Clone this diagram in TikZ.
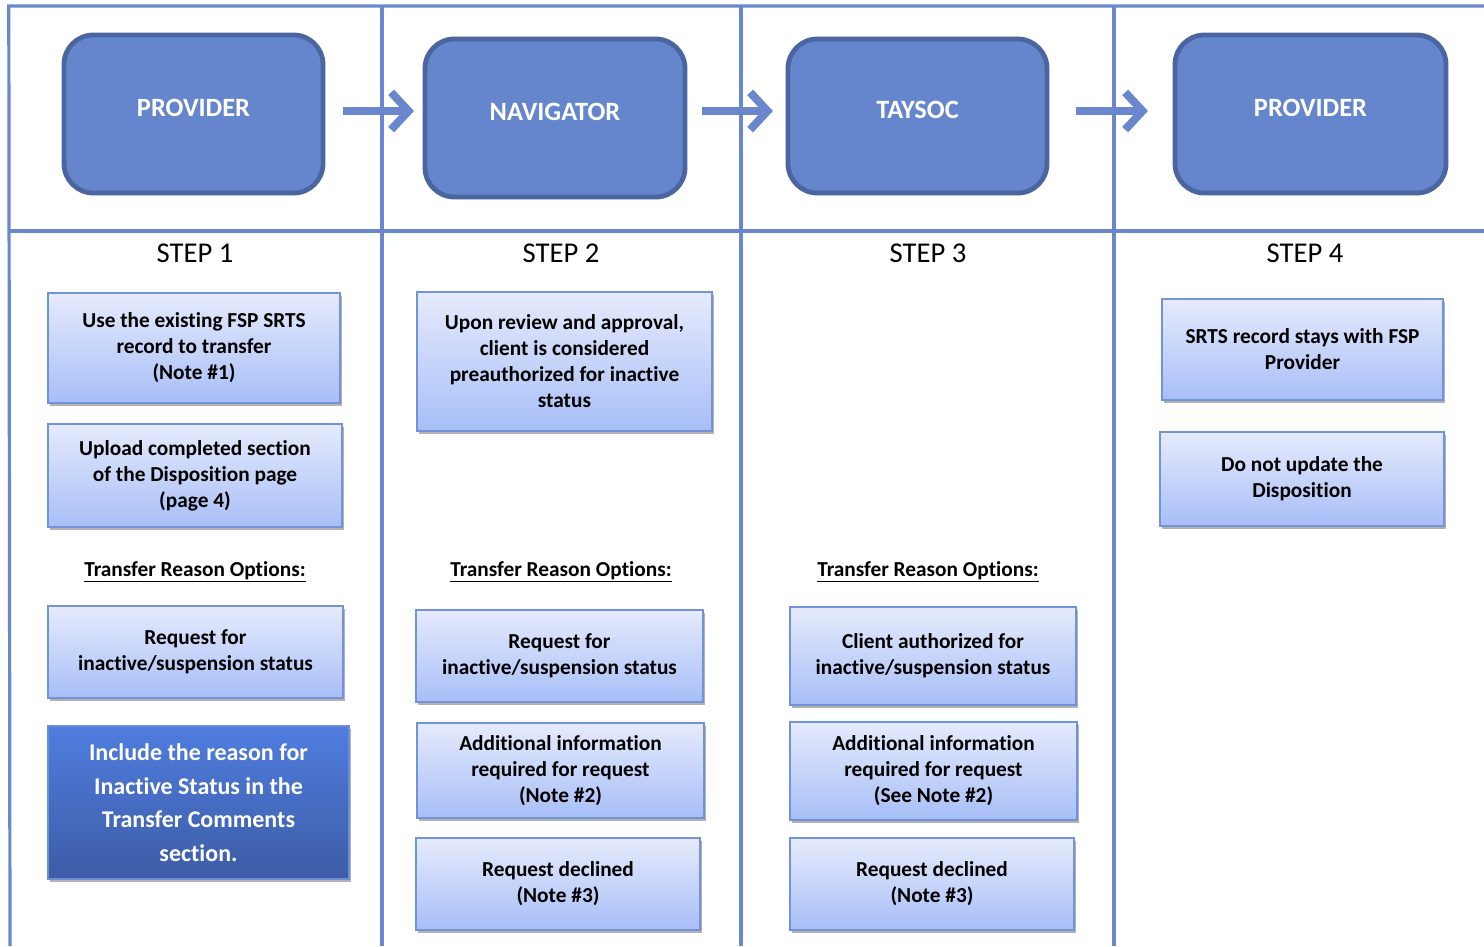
\documentclass[tikz,border=0pt]{standalone}
\usepackage{fontspec}
\setmainfont[Ligatures={NoCommon}]{Carlito}
\usetikzlibrary{shadows,arrows.meta,calc}
\definecolor{gridc}{HTML}{6A87CD}
\definecolor{bigfill}{HTML}{6586CD}
\definecolor{bigborder}{HTML}{4A65A0}
\definecolor{sboxtop}{HTML}{E6EBFC}
\definecolor{sboxbot}{HTML}{A7BEF7}
\definecolor{sboxborder}{HTML}{7393D8}
\definecolor{dboxtop}{HTML}{4F7DDF}
\definecolor{dboxbot}{HTML}{3D5CA5}
\definecolor{dboxborder}{HTML}{6A8ED8}
% box by corners: style, x1, y1, x2, y2, name, text
\newcommand\cbox[7]{\node[#1, minimum width={(#4-#2)*0.75pt}, minimum height={(#5-#3)*0.75pt}] (#6) at ({(#2+#4)/2},{(#3+#5)/2}) {#7};}
\begin{document}
\begin{tikzpicture}[x=0.75pt,y=-0.75pt,
  gridline/.style={draw=gridc, line width=2.4pt},
  bigbox/.style={draw=bigborder, fill=bigfill, line width=3.6pt, rounded corners=22pt,
    inner sep=0pt, text=white, font=\fontsize{19.8}{23}\selectfont\bfseries,
    drop shadow={shadow xshift=1pt, shadow yshift=-1.5pt, opacity=0.25, fill=black}},
  sbox/.style={draw=sboxborder, line width=1.2pt, top color=sboxtop, bottom color=sboxbot,
    inner sep=0pt, align=center, font=\fontsize{16}{19.5}\selectfont\bfseries,
    drop shadow={shadow xshift=1.5pt, shadow yshift=-2.5pt, opacity=0.3, fill=black}},
  dbox/.style={draw=dboxborder, line width=1.2pt, top color=dboxtop, bottom color=dboxbot,
    inner sep=0pt, align=center, text=white, font=\fontsize{18}{25.2}\selectfont\bfseries,
    drop shadow={shadow xshift=1.5pt, shadow yshift=-2.5pt, opacity=0.3, fill=black}},
  steplbl/.style={font=\fontsize{21.5}{24}\selectfont, inner sep=0pt},
  optlbl/.style={font=\fontsize{16}{19.5}\selectfont\bfseries, inner sep=0pt},
  flow/.style={draw=gridc, line width=6pt, -{Straight Barb[length=13pt,width=28pt]}}
]
\useasboundingbox (0,0) rectangle (1484,946);
\fill[white] (0,0) rectangle (1484,946);

% grid
\draw[gridline] (1484,6) -- (8.8,6) -- (10,946);
\draw[gridline] (10,231) -- (1484,231);
\draw[gridline] (382,6) -- (382,946);
\draw[gridline] (741,6) -- (741,946);
\draw[gridline] (1114,6) -- (1114,946);

% header boxes
\cbox{bigbox}{64}{35}{323}{193}{prov1}{\raisebox{9pt}{PROVIDER}}
\cbox{bigbox}{425}{39}{685}{197}{nav}{\raisebox{9pt}{NAVIGATOR}}
\cbox{bigbox}{788}{39}{1047}{193}{tay}{\raisebox{9pt}{TAYSOC}}
\cbox{bigbox}{1175}{35}{1446}{193}{prov2}{\raisebox{9pt}{PROVIDER}}

\coordinate (ay) at (0,111);
\draw[flow, shorten <=13.5pt, shorten >=6.5pt] (prov1.east |- ay) -- (nav.west |- ay);
\draw[flow, shorten <=11pt, shorten >=9.5pt] (nav.east |- ay) -- (tay.west |- ay);
\draw[flow, shorten <=20pt, shorten >=18.5pt] (tay.east |- ay) -- (prov2.west |- ay);

% step labels
\node[steplbl] (s1) at (195,253) {STEP 1};
\node[steplbl] (s2) at (561,253) {STEP 2};
\node[steplbl] (s3) at (928,253) {STEP 3};
\node[steplbl] (s4) at (1305,253) {STEP 4};

% column 1
\cbox{sbox}{48}{293}{340}{403}{a}{Use the existing FSP SRTS\\record to transfer\\(Note \#1)}
\cbox{sbox}{48}{424}{342}{527}{b}{Upload completed section\\of the Disposition page\\(page 4)}
\node[optlbl] (o1) at (195,572) {\underline{Transfer Reason Options:}};
\cbox{sbox}{48}{606}{343}{698}{c}{Request for\\inactive/suspension status}
\cbox{dbox}{48}{726}{349}{879}{d}{Include the reason for\\Inactive Status in the\\Transfer Comments\\section.}

% column 2
\cbox{sbox}{417}{292}{712}{431}{e}{Upon review and approval,\\client is considered\\preauthorized for inactive\\status}
\node[optlbl] (o2) at (561,572) {\underline{Transfer Reason Options:}};
\cbox{sbox}{416}{610}{703}{702}{f}{Request for\\inactive/suspension status}
\cbox{sbox}{417}{723}{704}{818}{g}{Additional information\\required for request\\(Note \#2)}
\cbox{sbox}{416}{838}{700}{930}{h}{Request declined\\(Note \#3)}

% column 3
\node[optlbl] (o3) at (928,572) {\underline{Transfer Reason Options:}};
\cbox{sbox}{790}{607}{1076}{705}{i}{Client authorized for\\inactive/suspension status}
\cbox{sbox}{790}{722}{1077}{820}{j}{Additional information\\required for request\\(See Note \#2)}
\cbox{sbox}{790}{838}{1074}{930}{k}{Request declined\\(Note \#3)}

% column 4
\cbox{sbox}{1162}{299}{1443}{400}{l}{SRTS record stays with FSP\\Provider}
\cbox{sbox}{1160}{432}{1444}{526}{m}{Do not update the\\Disposition}
\end{tikzpicture}
\end{document}
